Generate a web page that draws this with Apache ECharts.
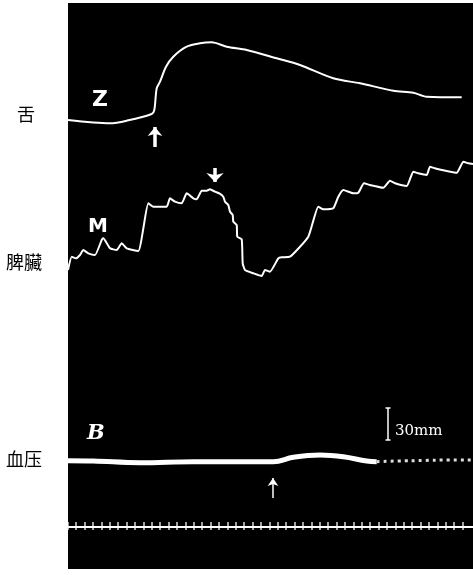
<!DOCTYPE html>
<html>
<head>
<meta charset="utf-8">
<script src="https://cdn.jsdelivr.net/npm/echarts@6/dist/echarts.min.js"></script>
<style>
html,body{margin:0;padding:0;background:#fff;}
#c{width:473px;height:575px;}
</style>
</head>
<body>
<div id="c"></div>
<script>
// Units: x = recording time (mm of drum), y = height above panel bottom (mm); scale bar = 30 mm
const tongueZ = [[0,449],[42,445.7],[58.7,448.3],[83.7,455],[86.3,459],[88.7,480.7],[92,487.3],[98,502.3],[105.3,512.3],[118.7,522.3],[132,525.7],[143.7,526.7],[158.7,522.3],[178.7,519],[208.7,510.7],[232,504],[265.3,490.7],[292,485.7],[325.3,478.3],[345.3,476.3],[358.7,472.3],[393.7,471.7]];
const spleenM = [[0,299],[3.7,312.3],[8,310.7],[12,314],[15.3,319],[20.3,315.7],[27,314],[33.7,329],[35.3,330.7],[42,320.7],[48.7,319],[53.7,325.7],[58.7,320.7],[70.3,318],[80.3,365.7],[85.3,362.3],[98.7,362.3],[102,370.7],[107,367.3],[113.7,365.7],[118.7,375.7],[125.3,370.7],[128.7,369.7],[133.7,378.3],[138.7,378.3],[142,379.7],[147,377.3],[151.3,375.7],[155.3,372.3],[157,367.3],[160.3,364],[162,357.3],[164.7,354],[165.3,347.3],[168.7,344],[169.3,332.3],[173.7,329.7],[174.7,305.7],[177,299],[185.3,295.7],[193.7,293],[197,299],[202,297.3],[210.3,310.7],[213.7,311.7],[222,312.3],[240.3,332.3],[250.3,362.3],[255.3,359.7],[265.3,360.7],[270.3,372.3],[275.3,379],[285.3,375.7],[290.3,376.3],[296,385.7],[302,384],[315.3,381.3],[322,388.3],[327,385.7],[338.7,383],[345.3,397.3],[350.3,395.7],[358.7,394],[362,402.3],[367,400.7],[388.7,396.3],[395.3,407.3],[400.3,405.7],[405,405]];
const bloodB = [[0,108.3],[25.3,108],[72,106.3],[125.3,107.3],[175.3,107.3],[205.3,107.3],[225.3,111.7],[252,114],[275.3,112.3],[298.7,108],[308.7,107.3]];
const bloodBTail = [[308.7,107.3],[330,108],[355,108.5],[380,109],[405,109]];
const timeLine = [[0,42],[405,42]];
const timeTicks = [0,8,17,25,34,42,50,59,67,76,84,92,101,109,118,126,134,143,151,160,168,176,185,193,202,210,218,227,235,244,252,260,269,277,286,294,302,311,319,328,336,344,353,361,370,378,386,395];
const scaleBar = [[320,129],[320,161]];
const arrows = [
  {from:[87,422], to:[87,442], w:3.5, s:[11,9]},
  {from:[147,401], to:[147,387], w:3.5, s:[13,9]},
  {from:[205,71], to:[205,91], w:1.5, s:[8,8]}
];

const chart = echarts.init(document.getElementById('c'));
const W = '#ffffff';
chart.setOption({
  animation:false,
  backgroundColor:'#ffffff',
  grid:{left:68,right:0,top:3,bottom:6,show:true,backgroundColor:'#000000',borderWidth:0},
  xAxis:{type:'value',min:0,max:405,show:false},
  yAxis:{type:'value',min:0,max:566,show:false},
  series:[
    {type:'line',data:tongueZ,smooth:0.3,showSymbol:false,lineStyle:{color:W,width:2}},
    {type:'line',data:spleenM,smooth:0.15,showSymbol:false,lineStyle:{color:W,width:2}},
    {type:'line',data:bloodB,smooth:0.4,showSymbol:false,lineStyle:{color:W,width:5}},
    {type:'line',data:bloodBTail,smooth:true,showSymbol:false,lineStyle:{color:'#dddddd',width:3,type:[3,4]}},
    {type:'line',data:timeLine,showSymbol:false,lineStyle:{color:W,width:2}},
    {type:'scatter',data:timeTicks.map(t=>[t,43]),symbol:'rect',symbolSize:[1.6,8],itemStyle:{color:W}},
    {type:'line',data:scaleBar,symbol:'rect',symbolSize:[5,1.5],showSymbol:true,lineStyle:{color:W,width:1.5},itemStyle:{color:W}},
    {type:'line',data:[],
      markLine:{silent:true,label:{show:false},
        data:arrows.map(a=>[{coord:a.from,symbol:'none',lineStyle:{color:W,width:a.w,type:'solid'}},{coord:a.to,symbol:'arrow',symbolSize:a.s}])
      }}
  ],
  graphic:[
    {type:'text',left:92,top:89,style:{text:'Z',fill:W,font:'bold 22px "DejaVu Sans"'}},
    {type:'text',left:88,top:217,style:{text:'M',fill:W,font:'bold 20px "DejaVu Sans"'}},
    {type:'text',left:87,top:423,style:{text:'B',fill:W,font:'italic bold 21px "DejaVu Serif"'}},
    {type:'text',left:395,top:424,style:{text:'30mm',fill:W,font:'15px "DejaVu Serif"'}},
    {type:'text',left:17,top:105,style:{text:'舌',fill:'#000',font:'18px "Noto Sans CJK TC"'}},
    {type:'text',left:6,top:253,style:{text:'脾臟',fill:'#000',font:'18px "Noto Sans CJK TC"'}},
    {type:'text',left:6,top:450,style:{text:'血压',fill:'#000',font:'18px "Noto Sans CJK SC"'}}
  ]
});
</script>
</body>
</html>
